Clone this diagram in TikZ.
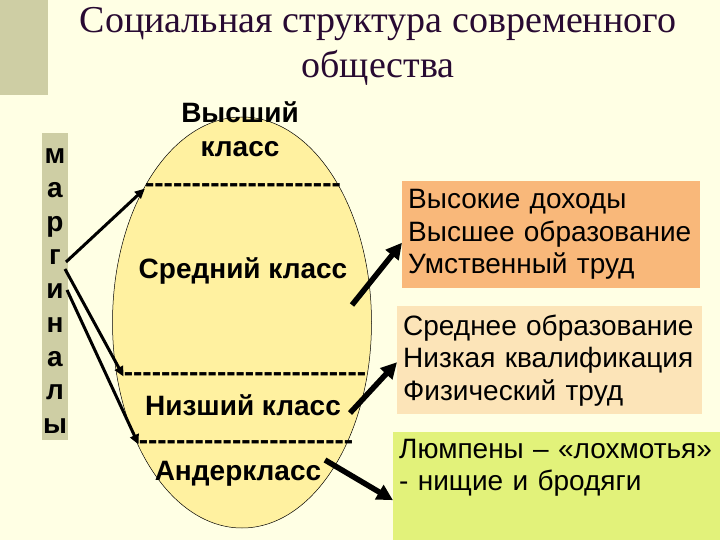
\documentclass[tikz,border=0pt]{standalone}
\usepackage{fontspec}
\setmainfont{Liberation Sans}
\newfontfamily\titlefont{Liberation Serif}
\usetikzlibrary{shapes.geometric, arrows.meta, positioning}
\definecolor{slidebg}{RGB}{255,255,228}
\definecolor{sage}{RGB}{206,206,164}
\definecolor{ovalfill}{RGB}{255,241,160}
\definecolor{richfill}{RGB}{249,184,122}
\definecolor{midfill}{RGB}{252,228,184}
\definecolor{poorfill}{RGB}{226,242,122}
\definecolor{titleink}{RGB}{40,10,50}
\newcommand\hyphrow[1]{\foreach \k in {1,...,#1}{-\kern0pt}}
\tikzset{
  classlbl/.style={font=\fontsize{28}{34}\selectfont\bfseries, inner sep=0pt, anchor=base, align=center},
  featbox/.style={font=\fontsize{28}{32.5}\selectfont, inner xsep=6pt, inner ysep=0pt, anchor=north west, align=left, minimum height=107pt},
  margarrow/.style={-{Triangle[length=10pt,width=9pt]}, line width=3pt},
  featarrow/.style={-{Triangle[length=16pt,width=16pt]}, line width=5.5pt},
}
\begin{document}
\begin{tikzpicture}[x=1pt, y=-1pt]
  \useasboundingbox (0,0) rectangle (720,540);
  \fill[slidebg] (0,0) rectangle (720,540);
  \fill[sage] (0,0) rectangle (48,95);
  \node[font=\titlefont\fontsize{38}{45}\selectfont, text=titleink, align=center, anchor=base, inner sep=0pt] (title) at (378,78) {Социальная структура современного\\общества};
  % oval of classes
  \node[ellipse, draw, line width=0.5pt, fill=ovalfill, minimum width=259pt, minimum height=411pt, inner sep=0pt] (oval) at (242,322.5) {};
  \node[classlbl] (upper) at (240,157) {Высший\\класс};
  \node[classlbl] (d1) at (243,193) {\hyphrow{21}};
  \node[classlbl] (middle) at (243,278) {Средний класс};
  \node[classlbl] (d2) at (245,381) {\hyphrow{26}};
  \node[classlbl] (lower) at (243,415) {Низший класс};
  \node[classlbl] (d3) at (246,449) {\hyphrow{23}};
  \node[classlbl] (under) at (238,480) {Андеркласс};
  % marginals
  \node[fill=sage, minimum width=26pt, minimum height=307pt, inner sep=0pt, align=center, font=\fontsize{28}{33.75}\selectfont\bfseries] (marg) at (55,286.5) {\rule{0pt}{24pt}м\\а\\р\\г\\и\\н\\а\\л\\ы};
  \coordinate (mg1) at (66,262);
  \coordinate (mg2) at (65,269);
  \coordinate (mg3) at (67,290);
  \foreach \s/\t in {mg1/d1, mg2/d2, mg3/d3} \draw[margarrow] (\s) -- (\t.west);
  % features
  \node[featbox, fill=richfill, minimum width=298pt, text width=286pt] (rich) at (402,181) {Высокие доходы\\Высшее образование\\Умственный труд};
  \node[featbox, fill=midfill, minimum width=305pt, text width=293pt, minimum height=108pt] (mid) at (397,306) {Среднее образование\\Низкая квалификация\\Физический труд};
  \node[featbox, fill=poorfill, minimum width=327pt, text width=315pt, minimum height=108pt] (poor) at (393,432) {Люмпены – «лохмотья»\\- нищие и бродяги\\\strut};
  \coordinate (c1) at (352,305);
  \coordinate (c2) at (350,413);
  \coordinate (c3) at (325,460);
  \draw[featarrow] (c1) -- ([yshift=-8pt]rich.west);
  \draw[featarrow] (c2) -- ([yshift=-2pt]mid.west);
  \draw[featarrow] (c3) -- ([yshift=-14pt]poor.west);
\end{tikzpicture}
\end{document}
